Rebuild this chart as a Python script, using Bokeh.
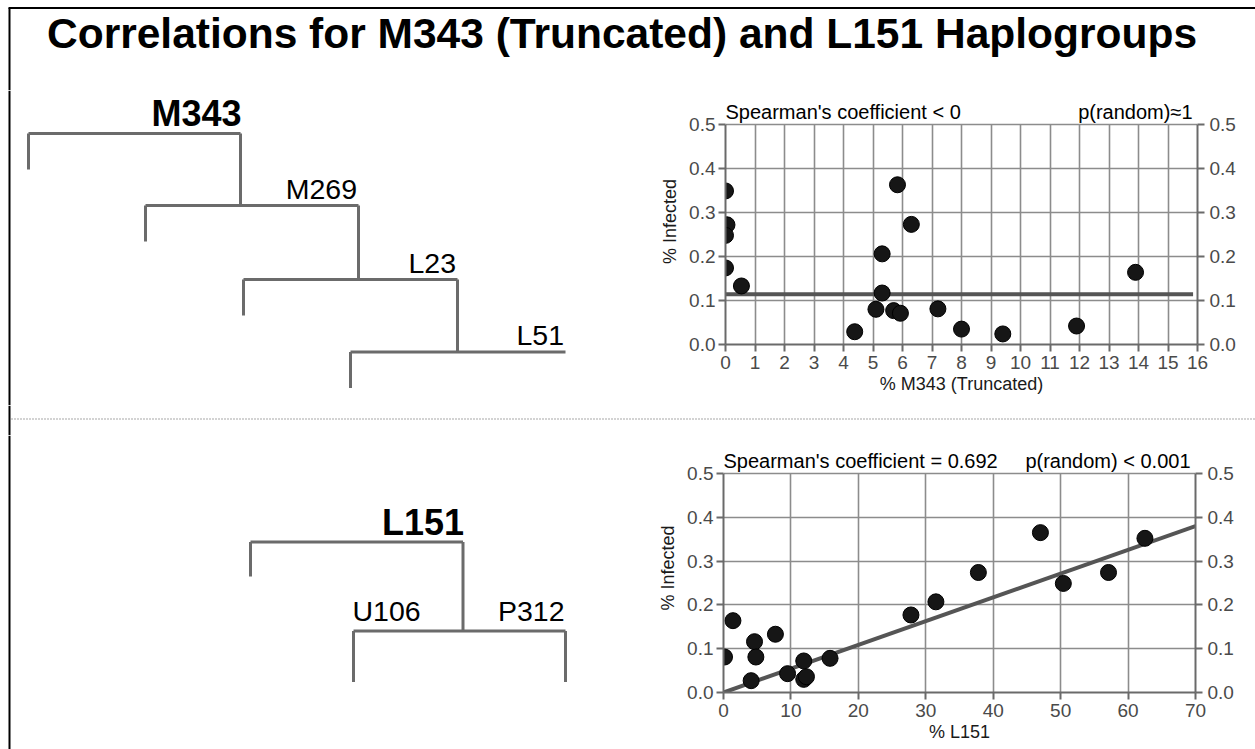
from bokeh.plotting import figure
from bokeh.layouts import column, row
from bokeh.models import Range1d, LinearAxis, FixedTicker, Label, PrintfTickFormatter
from bokeh.core.properties import value
from bokeh.embed import file_html
from bokeh.resources import INLINE

# ---------------- data ----------------
title_text = "Correlations for M343 (Truncated) and L151 Haplogroups"

tree1_nodes = ["M343", "M269", "L23", "L51"]
tree2_root = "L151"
tree2_children = ["U106", "P312"]

m343_pct = [0.0, 0.05, 0.0, 0.0, 0.54, 4.38, 5.1, 5.31, 5.31, 5.7, 5.93, 5.83, 6.3, 7.2, 8.0, 9.4, 11.9, 13.9]
m343_inf = [0.349, 0.272, 0.248, 0.174, 0.133, 0.029, 0.080, 0.206, 0.117, 0.077, 0.071, 0.363, 0.273,
            0.081, 0.035, 0.024, 0.042, 0.164]
m343_fit_x = [0.0, 15.85]
m343_fit_y = [0.114, 0.114]
m343_stats = ["Spearman's coefficient < 0", "p(random)\u22481"]
m343_xlabel = "% M343 (Truncated)"
m343_xticks = [0, 1, 2, 3, 4, 5, 6, 7, 8, 9, 10, 11, 12, 13, 14, 15, 16]

l151_pct = [0.15, 1.4, 4.6, 4.8, 4.1, 7.7, 9.5, 11.9, 11.9, 12.3, 15.8, 27.8, 31.5, 37.8, 47.0, 50.4, 57.1, 62.5]
l151_inf = [0.081, 0.164, 0.116, 0.081, 0.027, 0.133, 0.043, 0.072, 0.030, 0.036, 0.078, 0.177, 0.207,
            0.274, 0.365, 0.249, 0.274, 0.352]
l151_fit_x = [0.0, 70.0]
l151_fit_y = [0.0, 0.380]
l151_stats = ["Spearman's coefficient = 0.692", "p(random) < 0.001"]
l151_xlabel = "% L151"
l151_xticks = [0, 10, 20, 30, 40, 50, 60, 70]

y_ticks = [0.0, 0.1, 0.2, 0.3, 0.4, 0.5]
y_label = "% Infected"

# ---------------- layout / style ----------------
FONT = "Liberation Sans"
W = 1255
LEFT_W = 648
RIGHT_W = W - LEFT_W
TITLE_H = 90     # page y 0..90
ROW1_H = 315     # page y 90..405
SEP_H = 30       # page y 405..435
ROW2_H = 314     # page y 435..749
TREE_COLOR = "#6b6b6b"
TREE_W = 3
BORDER_X = 9
BORDER_Y = 7.5
MID = 0.35       # distance (in em) from baseline up to the text middle


def blank_fig(w, h):
    f = figure(width=w, height=h, x_range=Range1d(0, w), y_range=Range1d(h, 0),
               output_backend="svg", toolbar_location=None, min_border=0,
               x_axis_type=None, y_axis_type=None)
    f.grid.visible = False
    f.outline_line_color = None
    f.title.visible = False
    return f


def left_border(f, h, top=0):
    f.segment(x0=[BORDER_X], y0=[top], x1=[BORDER_X], y1=[h], line_color="black", line_width=2)


def put_text(f, xs, baselines, texts, size, align, bold=False):
    f.text(x=xs, y=[b - MID * size for b in baselines], text=texts, text_font=value(FONT),
           text_font_size=f"{size}px", text_font_style="bold" if bold else "normal",
           text_align=align, text_baseline="middle", text_color="black")


# title
tf = blank_fig(W, TITLE_H)
tf.segment(x0=[BORDER_X - 1], y0=[BORDER_Y], x1=[W], y1=[BORDER_Y], line_color="black", line_width=2)
left_border(tf, TITLE_H, BORDER_Y)
put_text(tf, [621.5], [48], [title_text], 42.5, "center", bold=True)

# tree 1 (page y offset 90)
oy = 90
L1 = [28, 145, 243, 350]
R1 = [240, 358, 457, 565]
Y1 = [133, 205, 279, 351.5]
DROP1 = 36
t1 = blank_fig(LEFT_W, ROW1_H)
left_border(t1, ROW1_H)
x0s, y0s, x1s, y1s = [], [], [], []
for i, name in enumerate(tree1_nodes):
    x0s += [L1[i], L1[i]]
    y0s += [Y1[i] - oy, Y1[i] - oy]
    x1s += [R1[i], L1[i]]
    y1s += [Y1[i] - oy, Y1[i] + DROP1 - oy]
    if i < len(tree1_nodes) - 1:
        x0s.append(R1[i]); y0s.append(Y1[i] - oy)
        x1s.append(R1[i]); y1s.append(Y1[i + 1] - oy)
t1.segment(x0=x0s, y0=y0s, x1=x1s, y1=y1s, line_color=TREE_COLOR, line_width=TREE_W)
put_text(t1, [R1[0] + 1], [Y1[0] - oy - 7.5], [tree1_nodes[0]], 36, "right", bold=True)
put_text(t1, [r - 1.5 for r in R1[1:]], [y - oy - 7 for y in Y1[1:]], tree1_nodes[1:], 28.5, "right")

# separator (page y 405..435)
osep = 405
sf = blank_fig(W, SEP_H)
left_border(sf, SEP_H)
sf.segment(x0=[BORDER_X + 2], y0=[418.5 - osep], x1=[W], y1=[418.5 - osep], line_color="#8a8a8a",
           line_width=1.5, line_dash="1 2")

# tree 2 (page y offset 435)
oy2 = 435
RL, RR, RY, RDROP = 250, 462.5, 541.5, 34.5
CL, CR, CY, CDROP = 353, 565, 630.5, 51
t2 = blank_fig(LEFT_W, ROW2_H)
left_border(t2, ROW2_H)
t2.segment(
    x0=[RL, RL, RR, CL, CL, CR],
    y0=[RY - oy2, RY - oy2, RY - oy2, CY - oy2, CY - oy2, CY - oy2],
    x1=[RR, RL, RR, CR, CL, CR],
    y1=[RY - oy2, RY + RDROP - oy2, CY - oy2, CY - oy2, CY + CDROP - oy2, CY + CDROP - oy2],
    line_color=TREE_COLOR, line_width=TREE_W)
put_text(t2, [RR + 1], [RY - oy2 - 6.5], [tree2_root], 36, "right", bold=True)
put_text(t2, [CL - 1], [CY - oy2 - 10.5], [tree2_children[0]], 28.5, "left")
put_text(t2, [CR - 1], [CY - oy2 - 10.5], [tree2_children[1]], 28.5, "right")


def scatter_fig(h, bl, br, bt, bb, y_top, xs, ys, xticks, fitx, fity, stats, xlabel):
    xmax = xticks[-1]
    ymax = y_ticks[-1]
    p = figure(width=RIGHT_W, height=h, x_range=Range1d(0, xmax), y_range=Range1d(0, y_top),
               output_backend="svg", toolbar_location=None,
               min_border_left=bl, min_border_right=br, min_border_top=bt, min_border_bottom=bb)
    p.title.visible = False
    p.outline_line_color = None
    p.add_layout(LinearAxis(), "right")
    for ax in p.axis:
        ax.axis_line_color = "#6a6a6a"
        ax.axis_line_width = 2
        ax.major_tick_line_color = "#6a6a6a"
        ax.major_tick_line_width = 2
        ax.major_tick_out = 7
        ax.major_tick_in = 0
        ax.minor_tick_line_color = None
        ax.major_label_text_font = FONT
        ax.major_label_text_font_size = "19px"
        ax.major_label_text_color = "#4a4a4a"
        ax.axis_label_text_font = FONT
        ax.axis_label_text_font_size = "18px"
        ax.axis_label_text_font_style = "normal"
        ax.axis_label_text_color = "#1a1a1a"
    xa = p.below[0]
    xa.ticker = FixedTicker(ticks=xticks)
    xa.major_label_standoff = 4
    xa.axis_label = xlabel
    xa.axis_label_standoff = 2
    for ax in (p.left[0], p.right[0]):
        ax.ticker = FixedTicker(ticks=y_ticks)
        ax.formatter = PrintfTickFormatter(format="%.1f")
        ax.bounds = (0, ymax)
    p.left[0].major_label_standoff = 3
    p.right[0].major_label_standoff = 5
    p.left[0].axis_label = y_label
    p.left[0].axis_label_standoff = 6
    p.xgrid.ticker = FixedTicker(ticks=xticks)
    p.ygrid.ticker = FixedTicker(ticks=y_ticks)
    for g in p.xgrid:
        try:
            g.cross_bounds = (0, ymax)
        except Exception:
            pass
    p.grid.grid_line_color = "#8c8c8c"
    p.grid.grid_line_width = 1.6
    p.line(fitx, fity, line_color="#555555", line_width=4)
    p.scatter(xs, ys, size=16, fill_color="#161616", line_color="#000000", line_width=1)
    off = 6 + MID * 20
    p.add_layout(Label(x=0, y=ymax, y_offset=off, text=stats[0], text_font=FONT, text_font_size="20px",
                       text_align="left", text_baseline="middle", text_color="black"))
    p.add_layout(Label(x=xmax, y=ymax, x_offset=-5, y_offset=off, text=stats[1], text_font=FONT,
                       text_font_size="20px", text_align="right", text_baseline="middle",
                       text_color="black"))
    return p


# frame: 0.5 at page y 124, 0.0 at 344 (440 px/unit); frame top at page 98
s1 = scatter_fig(ROW1_H, 77, 58, 8, 61, 0.5 + 26 / 440, m343_pct, m343_inf, m343_xticks,
                 m343_fit_x, m343_fit_y, m343_stats, m343_xlabel)
# frame: 0.5 at page y 473, 0.0 at 692 (438 px/unit); frame top at page 443
s2 = scatter_fig(ROW2_H, 75, 60, 8, 57, 0.5 + 30 / 438, l151_pct, l151_inf, l151_xticks,
                 l151_fit_x, l151_fit_y, l151_stats, l151_xlabel)

layout = column(tf, row(column(t1), column(s1)), sf, row(column(t2), column(s2)))
open("out.html", "w").write(file_html(layout, INLINE))
